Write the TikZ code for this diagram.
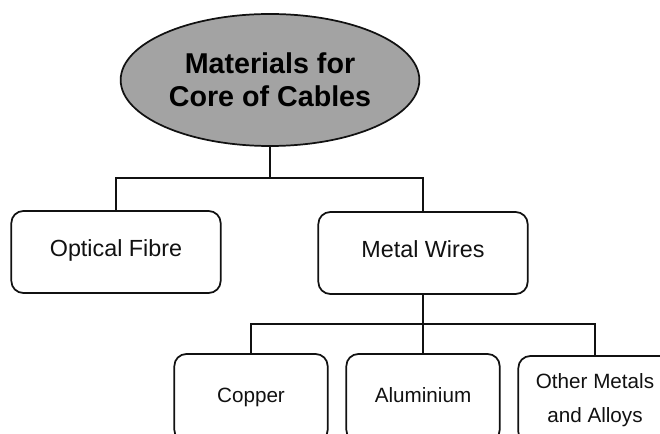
\documentclass[tikz,border=0pt]{standalone}
\usepackage{fontspec}
\setmainfont{Liberation Sans}
\usepackage{tikz}
\usetikzlibrary{positioning,shapes.geometric}
\definecolor{ink}{HTML}{111111}
\definecolor{shade}{HTML}{A3A3A3}

\begin{document}
\begin{tikzpicture}[x=0.75pt,y=-0.75pt,line width=1.3pt,
  box/.style={draw=ink,rounded corners=9pt,align=center,text=ink,
    minimum width=115pt,minimum height=66pt,font=\fontsize{15.5}{25}\selectfont},
  wide/.style={box,minimum width=157pt,minimum height=61.5pt,font=\fontsize{17.5}{21}\selectfont},
  flat/.style={text height=0.72em,text depth=0pt}]
  \useasboundingbox (0,0) rectangle (660,434);
  \clip (0,0) rectangle (660,434);
  \node[ellipse,draw=ink,fill=shade,minimum width=217.5pt,minimum height=99pt,
    align=center,font=\bfseries\fontsize{21.5}{25}\selectfont] (root) at (270,80) {Materials for\\Core of Cables};
  \node[wide,flat] (fibre) at (116,252) {Optical Fibre};
  \node[wide,flat] (wires) at (423,253) {Metal Wires};
  \node[box,flat] (copper) at (251,398) {Copper};
  \node[box,flat] (alu) at (423,398) {Aluminium};
  \node[box] (other) at (595,400) {Other Metals\\and Alloys};
  \coordinate (bus1) at (270,178);
  \coordinate (bus2) at (423,324);
  \draw[ink] (root.south) -- (bus1);
  \draw[ink] (fibre.north) |- (bus1) -| (wires.north);
  \draw[ink] (wires.south) -- (bus2);
  \draw[ink] (copper.north) |- (bus2) -| (other.north);
  \draw[ink] (bus2) -- (alu.north);
\end{tikzpicture}
\end{document}
